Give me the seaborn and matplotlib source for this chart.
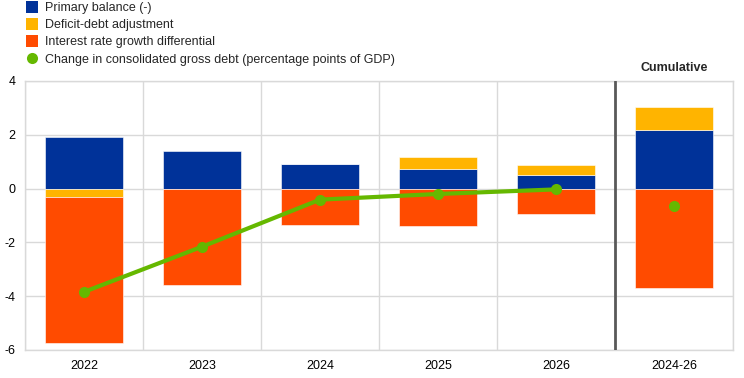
import matplotlib
matplotlib.use("Agg")
import matplotlib.pyplot as plt
from matplotlib.lines import Line2D
import numpy as np
import pandas as pd
import seaborn as sns

categories = ["2022", "2023", "2024", "2025", "2026", "2024-26"]
primary_balance = [1.91, 1.41, 0.92, 0.73, 0.52, 2.17]
deficit_debt_adj = [-0.33, -0.03, 0.0, 0.46, 0.37, 0.85]
interest_growth = [-5.41, -3.55, -1.34, -1.40, -0.94, -3.69]
debt_change = [-3.84, -2.16, -0.41, -0.20, -0.03, -0.66]

labels = ["Primary balance (-)", "Deficit-debt adjustment",
          "Interest rate growth differential",
          "Change in consolidated gross debt (percentage points of GDP)"]
colors = ["#003299", "#FFB400", "#FF4B00", "#65B800"]

sns.set_theme(style="white")
plt.rcParams["font.family"] = ["Liberation Sans", "DejaVu Sans"]

fig = plt.figure(figsize=(7.44, 3.78), dpi=100)
ax = fig.add_axes([25 / 744, 28 / 378, 708 / 744, 269 / 378])

x = np.arange(len(categories))
width = 0.66
series = [primary_balance, deficit_debt_adj, interest_growth]
pos_bottom = np.zeros(len(categories))
neg_bottom = np.zeros(len(categories))
for vals, col in zip(series, colors[:3]):
    v = np.array(vals, dtype=float)
    bottom = np.where(v >= 0, pos_bottom, neg_bottom)
    ax.bar(x, v, width=width, bottom=bottom, color=col,
           edgecolor="white", linewidth=0.4, zorder=2)
    pos_bottom = pos_bottom + np.where(v >= 0, v, 0)
    neg_bottom = neg_bottom + np.where(v < 0, v, 0)

df = pd.DataFrame({"x": x[:5], "y": debt_change[:5]})
sns.lineplot(data=df, x="x", y="y", ax=ax, color=colors[3], linewidth=3,
             marker="o", markersize=8, markeredgewidth=0, zorder=3)
ax.scatter([x[5]], [debt_change[5]], s=64, color=colors[3], zorder=3,
           linewidths=0)

ax.set_xlim(-0.5, len(categories) - 0.5)
ax.set_ylim(-6, 4)
ax.set_yticks([-6, -4, -2, 0, 2, 4])
ax.set_yticklabels(["-6", "-4", "-2", "0", "2", "4"])
ax.set_xticks(x)
ax.set_xticklabels(categories)
ax.set_xticks(np.arange(-0.5, len(categories), 1), minor=True)
ax.grid(True, which="major", axis="y", color="#d9d9d9", linewidth=1, zorder=0)
ax.grid(True, which="minor", axis="x", color="#d9d9d9", linewidth=1, zorder=0)
ax.set_axisbelow(True)
ax.tick_params(axis="both", which="both", length=0, labelsize=9,
               colors="black")
ax.tick_params(axis="y", pad=7)
ax.tick_params(axis="x", pad=7)
for s in ax.spines.values():
    s.set_color("#d9d9d9")
    s.set_linewidth(1)
ax.set_xlabel("")
ax.set_ylabel("")

ax.axvline(4.5, color="#595959", linewidth=2, zorder=4)
ax.text(5, 4.25, "Cumulative", ha="center", va="bottom", fontsize=9,
        fontweight="bold")

handles = [
    Line2D([], [], marker="s", linestyle="none", markersize=8,
           markerfacecolor=colors[0], markeredgewidth=0),
    Line2D([], [], marker="s", linestyle="none", markersize=8,
           markerfacecolor=colors[1], markeredgewidth=0),
    Line2D([], [], marker="s", linestyle="none", markersize=8,
           markerfacecolor=colors[2], markeredgewidth=0),
    Line2D([], [], marker="o", linestyle="none", markersize=8,
           markerfacecolor=colors[3], markeredgewidth=0),
]
fig.legend(handles, labels, loc="upper left",
           bbox_to_anchor=(24 / 744, 1 - 2 / 378),
           frameon=False, fontsize=9, handletextpad=0.5, labelspacing=0.42,
           handlelength=1.2, borderaxespad=0, borderpad=0.0)

fig.savefig("out.png", dpi=100)
